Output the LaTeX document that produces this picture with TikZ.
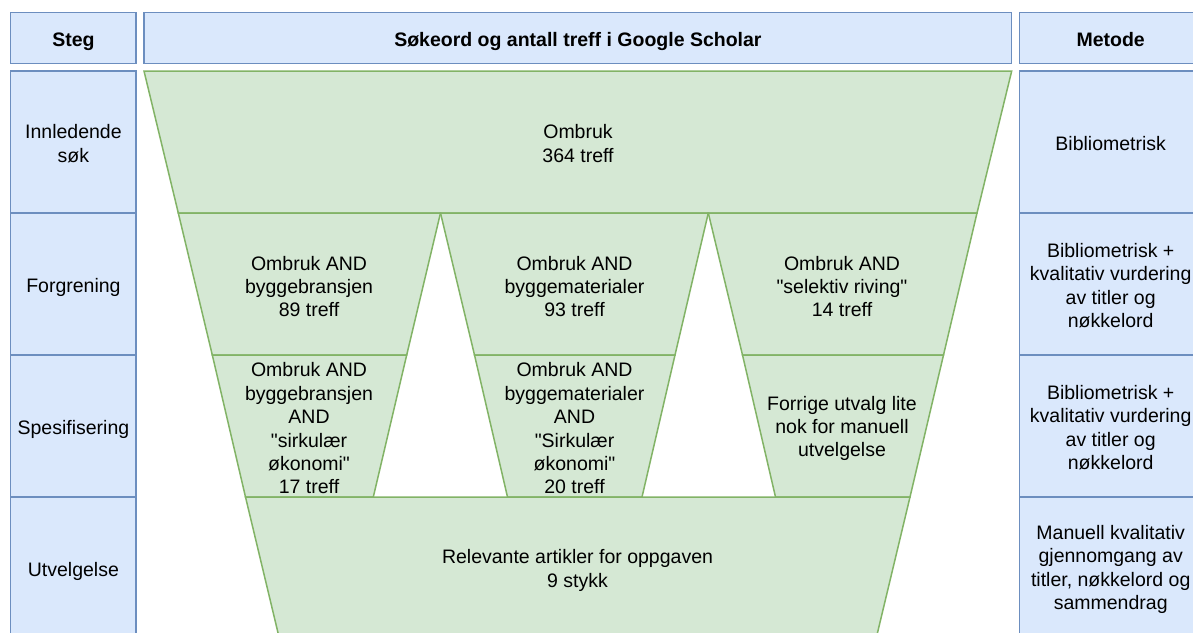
\documentclass[tikz,border=0pt]{standalone}
\usepackage{fontspec}
\setmainfont{Liberation Sans}
\definecolor{cellfill}{HTML}{DAE8FC}
\definecolor{cellline}{HTML}{6C8EBF}
\definecolor{tierfill}{HTML}{D5E8D4}
\definecolor{tierline}{HTML}{82B366}
\newcommand{\qt}{\textquotedbl}
\tikzset{
  cell/.style={fill=cellfill, draw=cellline, line width=1.5pt},
  tier/.style={fill=tierfill, draw=tierline, line width=1.5pt, line join=miter},
  lbl/.style={align=center, inner sep=0pt, yshift=-1.5pt, font=\fontsize{19.5}{23.4}\selectfont},
  one/.style={anchor=base, inner sep=0pt, font=\fontsize{19.5}{23.4}\selectfont},
  hdr/.style={anchor=base, inner sep=0pt, font=\fontsize{19.5}{23.4}\selectfont\bfseries},
}
\begin{document}
\begin{tikzpicture}[x=1pt,y=-1pt]
\clip (0,0) rectangle (1193,632);
\fill[white] (0,0) rectangle (1193,632);

% header row
\draw[cell] (10.7,12.7) rectangle (136,63.3);
\draw[cell] (144,12.7) rectangle (1011.7,63.3);
\draw[cell] (1019.3,12.7) rectangle (1202,63.3);
\node[hdr] (hsteg) at (73.4,46) {Steg};
\node[hdr] (hsok) at (577.9,46) {Søkeord og antall treff i Google Scholar};
\node[hdr] (hmet) at (1110.7,46) {Metode};

% step and method columns
\foreach \ya/\yb in {71/213, 213/355, 355/497, 497/639} {
  \draw[cell] (10.7,\ya) rectangle (136,\yb);
  \draw[cell] (1019.3,\ya) rectangle (1202,\yb);
}
\node[lbl] (s1) at (73.4,142) {Innledende\\søk};
\node[one] (s2) at (73.4,292.5) {Forgrening};
\node[one] (s3) at (73.4,434.5) {Spesifisering};
\node[one] (s4) at (73.4,576.5) {Utvelgelse};

\node[one] (m1) at (1110.7,150.5) {Bibliometrisk};
\node[lbl] (m2) at (1110.7,284) {Bibliometrisk +\\kvalitativ vurdering\\av titler og\\nøkkelord};
\node[lbl] (m3) at (1110.7,426) {Bibliometrisk +\\kvalitativ vurdering\\av titler og\\nøkkelord};
\node[lbl] (m4) at (1110.7,568) {Manuell kvalitativ\\gjennomgang av\\titler, nøkkelord og\\sammendrag};

% funnel tiers
\draw[tier] (144,71) -- (1011.7,71) -- (977,213) -- (178.3,213) -- cycle;

\draw[tier] (178.3,213) -- (440.5,213) -- (406.7,355) -- (212.3,355) -- cycle;
\draw[tier] (440.5,213) -- (708.3,213) -- (675,355) -- (474.5,355) -- cycle;
\draw[tier] (708.3,213) -- (977,213) -- (943.5,355) -- (742.5,355) -- cycle;

\draw[tier] (212.3,355) -- (406.7,355) -- (373.3,497) -- (245.5,497) -- cycle;
\draw[tier] (474.5,355) -- (675,355) -- (642,497) -- (507.5,497) -- cycle;
\draw[tier] (742.5,355) -- (943.5,355) -- (910,497) -- (775.5,497) -- cycle;

\draw[tier] (245.5,497) -- (910,497) -- (876,639) -- (279.5,639) -- cycle;

\node[lbl] (f1) at (578,142) {Ombruk\\364 treff};
\node[lbl] (f2a) at (309,285) {Ombruk AND\\byggebransjen\\89 treff};
\node[lbl] (f2b) at (574.5,285) {Ombruk AND\\byggematerialer\\93 treff};
\node[lbl] (f2c) at (842,285) {Ombruk AND\\\qt selektiv riving\qt\\14 treff};
\node[lbl] (f3a) at (309,427) {Ombruk AND\\byggebransjen\\AND\\\qt sirkulær\\økonomi\qt\\17 treff};
\node[lbl] (f3b) at (574.5,427) {Ombruk AND\\byggematerialer\\AND\\\qt Sirkulær\\økonomi\qt\\20 treff};
\node[lbl] (f3c) at (842,427) {Forrige utvalg lite\\nok for manuell\\utvelgelse};
\node[lbl] (f4) at (577.5,569) {Relevante artikler for oppgaven\\9 stykk};
\end{tikzpicture}
\end{document}
